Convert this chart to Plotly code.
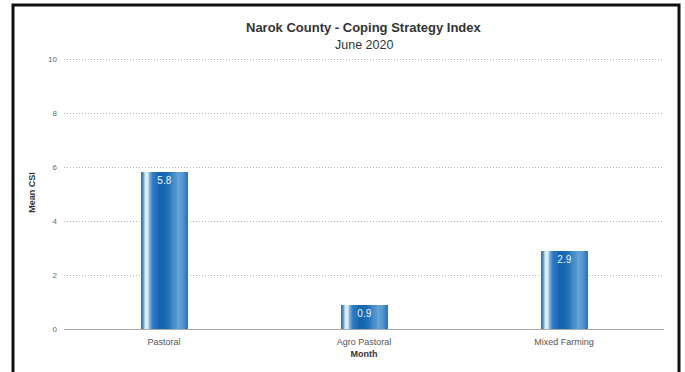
import plotly.graph_objects as go

categories = ["Pastoral", "Agro Pastoral", "Mixed Farming"]
mean_csi = [5.8, 0.9, 2.9]
value_labels = ["5.8", "0.9", "2.9"]
title_text = "Narok County - Coping Strategy Index"
subtitle_text = "June 2020"

W, H = 685, 372
L, R, T, B = 64, 21, 56, 43
PW, PH = W - L - R, H - T - B
Y_TOP = 10 + 3 / 27.0  # 3 px headroom so the 10 gridline is drawn

BAR_W = 0.235
# horizontal colour stops of the cylinder-like bar fill (fraction across bar, rgb)
stops = [
    (0.00, (0x2c, 0x6f, 0xb0)),
    (0.05, (0x4a, 0x8d, 0xca)),
    (0.09, (0xa8, 0xcf, 0xec)),
    (0.12, (0xee, 0xf6, 0xfc)),
    (0.15, (0xd0, 0xe5, 0xf5)),
    (0.20, (0x6c, 0xa8, 0xd9)),
    (0.28, (0x2c, 0x78, 0xbf)),
    (0.42, (0x12, 0x65, 0xae)),
    (0.55, (0x1a, 0x6c, 0xb4)),
    (0.68, (0x3c, 0x88, 0xc7)),
    (0.82, (0x69, 0xa6, 0xd7)),
    (0.92, (0x4c, 0x8e, 0xca)),
    (1.00, (0x2e, 0x73, 0xb3)),
]

def colour_at(f):
    for (f0, c0), (f1, c1) in zip(stops[:-1], stops[1:]):
        if f0 <= f <= f1:
            t = (f - f0) / (f1 - f0) if f1 > f0 else 0
            c = [round(a + (b - a) * t) for a, b in zip(c0, c1)]
            return "rgb(%d,%d,%d)" % tuple(c)
    return "rgb(%d,%d,%d)" % stops[-1][1]

N_STRIPS = 40
fig = go.Figure()
for i in range(N_STRIPS):
    f = i / N_STRIPS
    start = BAR_W * f
    fig.add_trace(go.Bar(
        x=categories, y=mean_csi, width=BAR_W - start, offset=-BAR_W / 2 + start,
        marker=dict(color=colour_at(f + 0.5 / N_STRIPS), line=dict(width=0)),
        hoverinfo="skip", showlegend=False,
    ))

fig.add_trace(go.Bar(
    x=categories, y=mean_csi, width=BAR_W, offset=-BAR_W / 2,
    marker=dict(color="rgba(0,0,0,0)", line=dict(width=0)),
    text=value_labels, textposition="inside", insidetextanchor="end",
    textfont=dict(color="#eef4fa", size=10, family="Liberation Sans, Arial, sans-serif"),
    textangle=0, showlegend=False, hoverinfo="skip",
))

def px(xp):
    return (xp - L) / PW

def py(yp):
    return (H - B - yp) / PH

fig.add_shape(type="rect", xref="paper", yref="paper",
              x0=px(13), x1=px(679), y0=py(395), y1=py(5),
              line=dict(color="#111111", width=3), layer="above")

fig.add_annotation(text="<b>" + title_text + "</b>", xref="paper", yref="paper",
                   x=0.5, y=py(28), showarrow=False, yanchor="middle",
                   font=dict(size=13, color="#333333"))
fig.add_annotation(text=subtitle_text, xref="paper", yref="paper",
                   x=0.5, y=py(45), showarrow=False, yanchor="middle",
                   font=dict(size=12.5, color="#333333"))

fig.update_layout(
    width=W, height=H, margin=dict(l=L, r=R, t=T, b=B, pad=0),
    barmode="overlay", bargap=0,
    paper_bgcolor="white", plot_bgcolor="white",
    font=dict(family="Liberation Sans, Arial, sans-serif", color="#555555", size=9),
    xaxis=dict(range=[-0.5, 2.5], showgrid=False, showline=False, zeroline=False,
               ticks="", ticklabelstandoff=6, tickfont=dict(size=9, color="#555555"),
               title=dict(text="<b>Month</b>", font=dict(size=9, color="#333333"), standoff=4)),
    yaxis=dict(range=[0, Y_TOP], tickvals=[0, 2, 4, 6, 8, 10], showgrid=True, gridcolor="#b0b0b0",
               griddash="1px,2px", gridwidth=1, zeroline=True, zerolinecolor="#aaaaaa",
               zerolinewidth=1, showline=False, ticks="", ticklabelstandoff=6,
               tickfont=dict(size=8, color="#666666"),
               title=dict(text="<b>Mean CSI</b>", font=dict(size=9, color="#333333"), standoff=10)),
)

fig.write_html("out.html")
